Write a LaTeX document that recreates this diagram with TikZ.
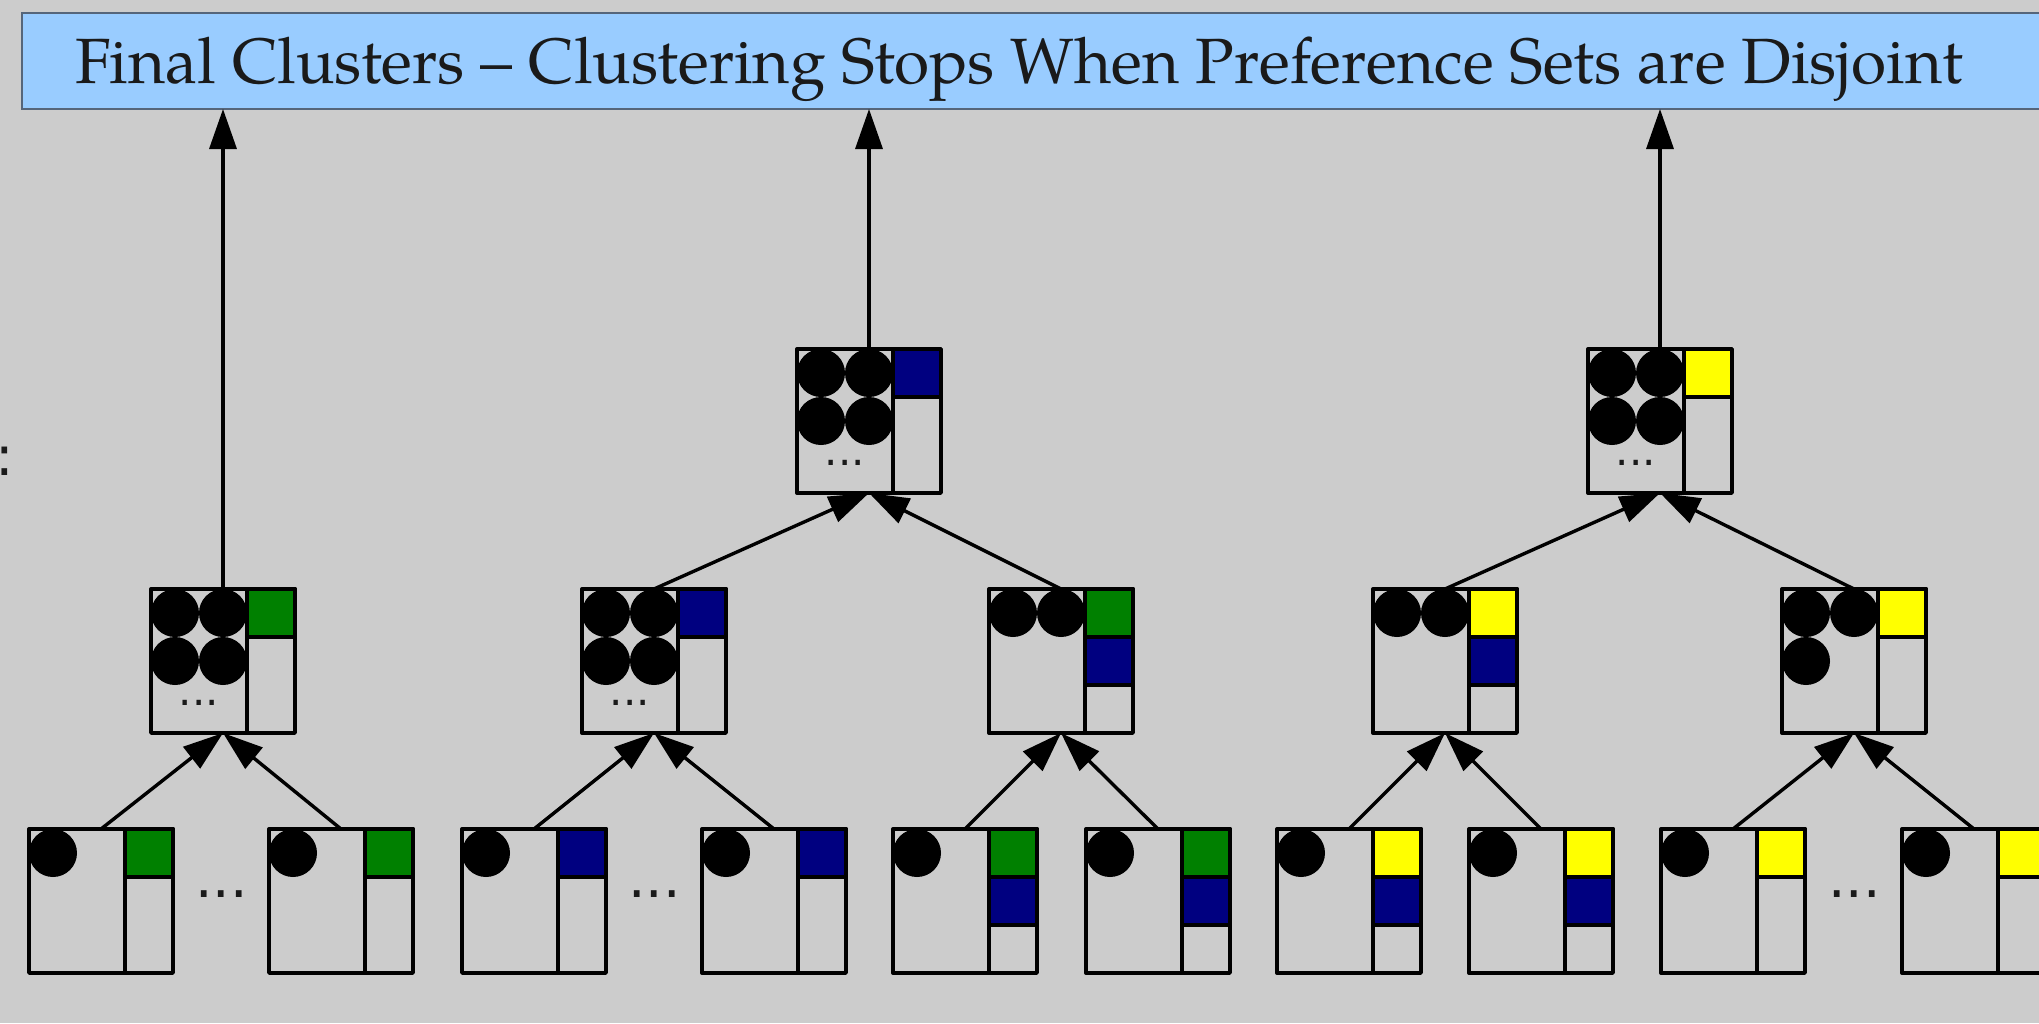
\documentclass[tikz,border=0pt]{standalone}
\usepackage{fontspec}
\setmainfont{TeX Gyre Pagella}
\newfontfamily\dotfont{DejaVu Sans}
\usetikzlibrary{arrows.meta}

\definecolor{bg}{HTML}{CCCCCC}
\definecolor{titlefill}{HTML}{99CCFF}
\definecolor{titleedge}{HTML}{55657A}
\definecolor{prefgreen}{HTML}{008000}
\definecolor{prefblue}{HTML}{000080}
\definecolor{prefyellow}{HTML}{FFFF00}
\definecolor{ink}{HTML}{1A1A1A}

\tikzset{
  boxline/.style={line width=1.7pt, line join=round},
  cbox/.style={boxline, draw, rectangle, minimum width=72pt, minimum height=72pt,
    inner sep=0pt, outer sep=0pt, anchor=north west},
  arr/.style={line width=1.7pt, -{Triangle[length=20pt, width=13.5pt]}},
  bigdots/.style={font=\dotfont\fontsize{27.5pt}{30pt}\selectfont, text=ink,
    inner sep=0pt, anchor=base},
  smalldots/.style={font=\dotfont\fontsize{21pt}{24pt}\selectfont, text=ink,
    inner sep=0pt, anchor=base},
}

% one cluster box: name, left x, top y, contents (drawn in box-local pixels)
\newcommand\prefbox[4]{%
  \node[cbox] (#1) at (#2,#3) {};
  \begin{scope}[shift={(#2,#3)}]
    #4
    \draw[boxline] (96,0) -- (96,144);
  \end{scope}
}
% a member of a cluster (black disc), column and row 0/1
\newcommand\member[2]{\fill (24+48*#1,24+48*#2) circle[radius=12pt];}
% a preference cell in the right column, row index and colour
\newcommand\pref[2]{\draw[boxline, fill=#2] (96,{48*#1}) rectangle (144,{48*#1+48});}
% four members and an ellipsis below
\newcommand\fourmembers{\member00\member10\member01\member11
  \node[smalldots] at (48,116) {...};}

\begin{document}
\begin{tikzpicture}[x=0.5pt, y=-0.5pt]
\useasboundingbox (0,0) rectangle (2039,1023);
\fill[bg] (0,0) rectangle (2039,1023);

% title bar
\node[draw=titleedge, fill=titlefill, line width=1pt, rectangle, inner sep=0pt,
  outer sep=0pt, anchor=north west, minimum width=1030pt, minimum height=48pt]
  (titlebox) at (22,13) {};
\node[anchor=base, inner sep=0pt, text=ink, font=\fontsize{32pt}{38pt}\selectfont]
  (titletext) at (1019.5,83) {Final Clusters – Clustering Stops When Preference Sets are Disjoint};

% clipped label on the left edge
\node[anchor=base west, inner sep=0pt, text=ink, font=\dotfont\fontsize{27.5pt}{30pt}\selectfont]
  (colon) at (-5,475) {:};

% bottom row: single-member clusters
\prefbox{b1}{29}{829}{\member00 \pref0{prefgreen}}
\prefbox{b2}{269}{829}{\member00 \pref0{prefgreen}}
\prefbox{b3}{462}{829}{\member00 \pref0{prefblue}}
\prefbox{b4}{702}{829}{\member00 \pref0{prefblue}}
\prefbox{b5}{893}{829}{\member00 \pref0{prefgreen}\pref1{prefblue}}
\prefbox{b6}{1086}{829}{\member00 \pref0{prefgreen}\pref1{prefblue}}
\prefbox{b7}{1277}{829}{\member00 \pref0{prefyellow}\pref1{prefblue}}
\prefbox{b8}{1469}{829}{\member00 \pref0{prefyellow}\pref1{prefblue}}
\prefbox{b9}{1661}{829}{\member00 \pref0{prefyellow}}
\prefbox{b10}{1902}{829}{\member00 \pref0{prefyellow}}

\node[bigdots] (dots1) at (221.5,897) {...};
\node[bigdots] (dots2) at (654.5,897) {...};
\node[bigdots] (dots3) at (1854.5,897) {...};

% middle row
\prefbox{m1}{151}{589}{\fourmembers \pref0{prefgreen}}
\prefbox{m2}{582}{589}{\fourmembers \pref0{prefblue}}
\prefbox{m3}{989}{589}{\member00\member10 \pref0{prefgreen}\pref1{prefblue}}
\prefbox{m4}{1373}{589}{\member00\member10 \pref0{prefyellow}\pref1{prefblue}}
\prefbox{m5}{1782}{589}{\member00\member10\member01 \pref0{prefyellow}}

% top row
\prefbox{t1}{797}{349}{\fourmembers \pref0{prefblue}}
\prefbox{t2}{1588}{349}{\fourmembers \pref0{prefyellow}}

% merges
\draw[arr] (b1.north) -- (m1.south);
\draw[arr] (b2.north) -- (m1.south);
\draw[arr] (b3.north) -- (m2.south);
\draw[arr] (b4.north) -- (m2.south);
\draw[arr] (b5.north) -- (m3.south);
\draw[arr] (b6.north) -- (m3.south);
\draw[arr] (b7.north) -- (m4.south);
\draw[arr] (b8.north) -- (m4.south);
\draw[arr] (b9.north) -- (m5.south);
\draw[arr] (b10.north) -- (m5.south);
\draw[arr] (m2.north) -- (t1.south);
\draw[arr] (m3.north) -- (t1.south);
\draw[arr] (m4.north) -- (t2.south);
\draw[arr] (m5.north) -- (t2.south);

% final clusters
\draw[arr] (m1.north) -- (m1.north |- titlebox.south);
\draw[arr] (t1.north) -- (t1.north |- titlebox.south);
\draw[arr] (t2.north) -- (t2.north |- titlebox.south);
\end{tikzpicture}
\end{document}
